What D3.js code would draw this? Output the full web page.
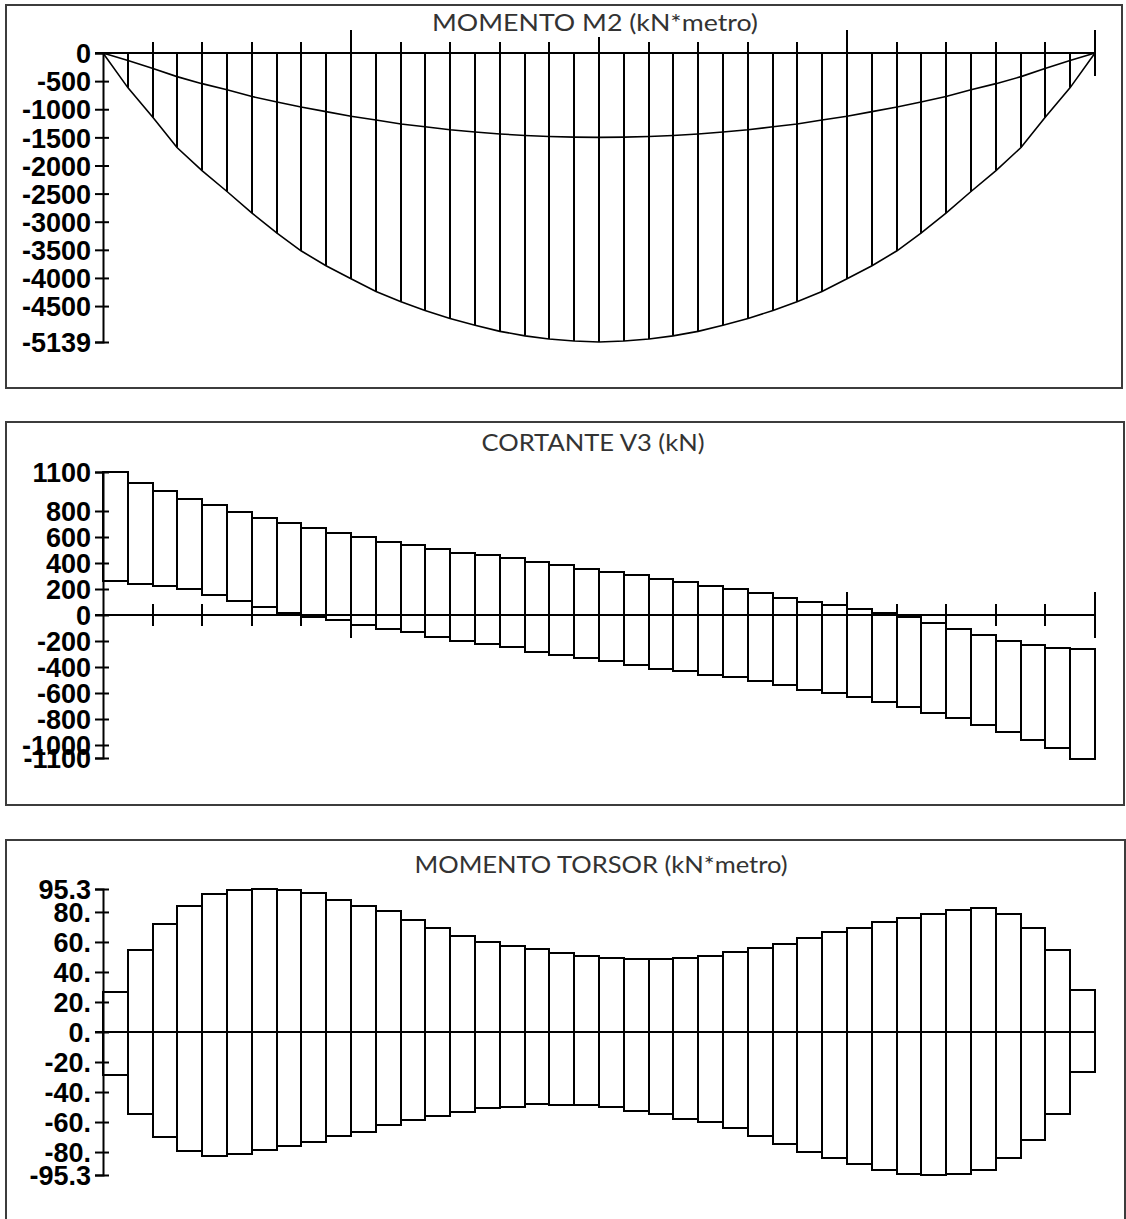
<!DOCTYPE html>
<html>
<head>
<meta charset="utf-8">
<script src="https://cdn.jsdelivr.net/npm/d3@7"></script>
<style>
  html, body { margin: 0; padding: 0; background: #fff; }
  svg { display: block; }
  .tick-label { font-family: "Liberation Sans", Arial, sans-serif; font-weight: bold; font-size: 27px; fill: #000; }
  .title { font-family: Lato, "Open Sans", sans-serif; font-size: 23px; fill: #333; }
</style>
</head>
<body>
<svg id="chart" width="1126" height="1219"></svg>
<script>
// ---------------- DATA ----------------
const stations = d3.range(41);          // 41 stations, 40 segments
const segments = d3.range(40);

// MOMENTO M2 (kN*metro)
const m2Lower = [0,-620,-1145,-1680,-2090,-2463,-2847,-3203,-3517,-3783,-4014,-4240,-4423,-4580,-4720,-4840,-4950,-5030,-5085,-5122,-5139,
                 -5122,-5085,-5030,-4950,-4840,-4720,-4580,-4423,-4240,-4014,-3783,-3517,-3203,-2847,-2463,-2090,-1680,-1145,-620,0];
const m2Upper = [0,-135,-275,-420,-545,-655,-775,-870,-960,-1043,-1125,-1190,-1262,-1312,-1365,-1406,-1440,-1466,-1485,-1496,-1500,
                 -1496,-1485,-1466,-1440,-1406,-1365,-1312,-1262,-1190,-1125,-1043,-960,-870,-775,-655,-545,-420,-275,-135,0];
const m2Ticks = [0,-500,-1000,-1500,-2000,-2500,-3000,-3500,-4000,-4500,-5139];
const m2TickLabels = ["0","-500","-1000","-1500","-2000","-2500","-3000","-3500","-4000","-4500","-5139"];

// CORTANTE V3 (kN)
const v3Top = [1100,1018,954,892,843,795,748,705,670,628,598,560,538,510,479,460,435,410,385,355,
               330,305,280,253,225,197,167,133,103,77,44,13,-13,-59,-110,-156,-200,-227,-251,-264];
const v3Bottom = [262,244,222,197,154,108,60,13,-12,-44,-77,-110,-133,-167,-197,-225,-253,-280,-305,-330,
                  -355,-385,-410,-435,-460,-479,-510,-538,-572,-603,-633,-675,-705,-752,-797,-846,-897,-956,-1021,-1110];
const v3Ticks = [1100,800,600,400,200,0,-200,-400,-600,-800,-1000,-1100];
const v3TickLabels = ["1100","800","600","400","200","0","-200","-400","-600","-800","-1000","-1100"];

// MOMENTO TORSOR (kN*metro)
const tTop = [26.7,54.7,72.2,84.2,92,94.7,95.3,94.7,92.4,88,84.2,80.4,74.5,69.1,64,60.2,57.5,55,52.5,50.5,
              49,48.5,48.5,49.5,50.4,53.3,56,58.7,62.7,66.7,69.3,73.3,76,78.7,81.5,82.7,78.7,69.3,54.9,27.7];
const tBottom = [-28.5,-54.7,-69.6,-78.9,-82.5,-81.4,-78.9,-75.8,-73.3,-69.6,-66.7,-62.5,-58.7,-56,-53.3,-50.4,-49.5,-48.5,-48.5,-49,
                 -50.5,-52.5,-55,-57.5,-60.2,-64,-69.1,-74.5,-80.2,-84,-87.8,-92.2,-94.7,-95.3,-94.7,-92.2,-84,-71.8,-54.7,-26.7];
const tTicks = [95.3,80,60,40,20,0,-20,-40,-60,-80,-95.3];
const tTickLabels = ["95.3","80.","60.","40.","20.","0.","-20.","-40.","-60.","-80.","-95.3"];

const titles = ["MOMENTO M2 (kN*metro)", "CORTANTE V3 (kN)", "MOMENTO TORSOR (kN*metro)"];

// ---------------- LAYOUT ----------------
const svg = d3.select("#chart");
svg.append("rect").attr("width",1126).attr("height",1219).attr("fill","#fff");

const x = d3.scaleLinear().domain([0,40]).range([103,1095]).interpolate(d3.interpolateRound);

function panel(cfg) {
  const g = svg.append("g");
  // border
  g.append("rect").attr("x",cfg.box[0]).attr("y",cfg.box[1])
    .attr("width",cfg.box[2]-cfg.box[0]).attr("height",cfg.box[3]-cfg.box[1])
    .attr("fill","none").attr("stroke","#3c3c3c").attr("stroke-width",2);

  const y = d3.scaleLinear().domain(cfg.ydomain).range(cfg.yrange);
  const y0 = Math.round(y(0));

  // x-axis ticks along zero line (both sides)
  const xt = d3.range(2,41,2);
  g.selectAll(".xt").data(xt).join("line")
    .attr("x1",d=>x(d)).attr("x2",d=>x(d))
    .attr("y1",d=> y0 - (d%10===0?23:11)).attr("y2",d=> y0 + (d%10===0?23:11))
    .attr("stroke","#000").attr("stroke-width",2);

  // zero line
  g.append("line").attr("x1",95).attr("x2",x(40)).attr("y1",y0).attr("y2",y0)
    .attr("stroke","#000").attr("stroke-width",2);

  // y-axis
  const ax = d3.axisLeft(y).tickValues(cfg.ticks).tickSizeOuter(0).tickSize(8)
    .tickFormat((d,i)=>cfg.labels[i]);
  const axg = g.append("g").attr("transform",`translate(${x(0)},0)`).call(ax);
  axg.select(".domain").attr("stroke","#000").attr("stroke-width",2);
  axg.selectAll(".tick line").attr("x1",6).attr("stroke","#000").attr("stroke-width",2);
  axg.selectAll(".tick text").attr("class","tick-label").attr("x",-12).attr("dy","0.36em")
    .attr("font-family",null).attr("font-size",null);
  axg.attr("font-family",null).attr("font-size",null);

  cfg.draw(g, y, y0);

  // title with white backing
  const t = g.append("text").attr("class","title").attr("x",cfg.title[1]).attr("y",cfg.title[2])
    .attr("text-anchor","middle").attr("textLength",cfg.title[3]).attr("lengthAdjust","spacingAndGlyphs")
    .text(cfg.title[0]);
  const bb = t.node().getBBox();
  g.insert("rect", () => t.node()).attr("x",bb.x-2).attr("y",bb.y).attr("width",bb.width+4).attr("height",bb.height+1)
    .attr("fill","#fff");
}

// Panel 1 : M2
panel({
  box:[6,5,1122,388],
  ydomain:[-5139,0], yrange:[342,53],
  ticks:m2Ticks, labels:m2TickLabels,
  title:[titles[0],595,31,326],
  draw:(g,y,y0)=>{
    g.selectAll(".vl").data(stations.slice(1,40)).join("line")
      .attr("x1",d=>x(d)).attr("x2",d=>x(d)).attr("y1",y0).attr("y2",d=>y(m2Lower[d]))
      .attr("stroke","#000").attr("stroke-width",2);
    const line = d3.line().x(d=>x(d[0])).y(d=>y(d[1]));
    g.append("path").attr("d",line(stations.map(s=>[s,m2Lower[s]])))
      .attr("fill","none").attr("stroke","#000").attr("stroke-width",1.6);
    g.append("path").attr("d",line(stations.map(s=>[s,m2Upper[s]])))
      .attr("fill","none").attr("stroke","#000").attr("stroke-width",1.6);
  }
});

// Panel 2 : V3
panel({
  box:[6,422,1124,805],
  ydomain:[-1100,1100], yrange:[758,472],
  ticks:v3Ticks, labels:v3TickLabels,
  title:[titles[1],593,451,223],
  draw:(g,y,y0)=>{
    g.selectAll(".bx").data(segments).join("rect")
      .attr("x",d=>x(d)).attr("width",d=>x(d+1)-x(d))
      .attr("y",d=>Math.round(y(Math.max(v3Top[d],v3Bottom[d]))))
      .attr("height",d=>Math.round(Math.abs(y(v3Bottom[d])-y(v3Top[d]))))
      .attr("fill","none").attr("stroke","#000").attr("stroke-width",2);
  }
});

// Panel 3 : Torsor
panel({
  box:[6,840,1125,1232],
  ydomain:[-95.3,95.3], yrange:[1175,889],
  ticks:tTicks, labels:tTickLabels,
  title:[titles[2],601,873,373],
  draw:(g,y,y0)=>{
    g.selectAll(".bx").data(segments).join("rect")
      .attr("x",d=>x(d)).attr("width",d=>x(d+1)-x(d))
      .attr("y",d=>Math.round(y(tTop[d])))
      .attr("height",d=>Math.round(y(tBottom[d])-y(tTop[d])))
      .attr("fill","none").attr("stroke","#000").attr("stroke-width",2);
  }
});
</script>
</body>
</html>
